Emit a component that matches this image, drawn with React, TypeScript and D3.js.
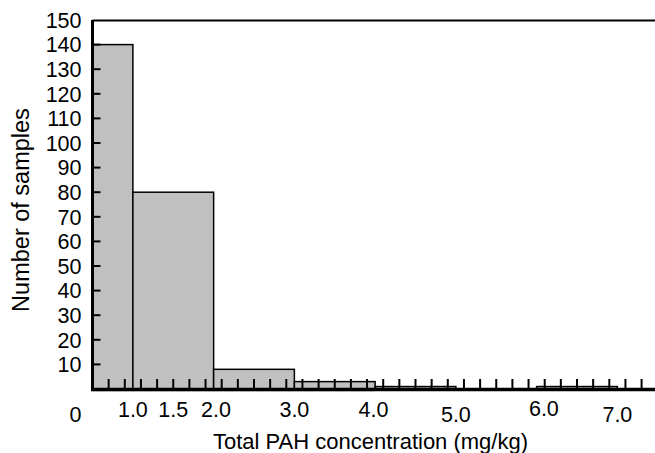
import React from "react";
import * as d3 from "d3";

const binStarts = [0.5, 1.0, 2.0, 3.0, 4.0, 5.0, 6.0];
const binEnds = [1.0, 2.0, 3.0, 4.0, 5.0, 6.0, 7.0];
const counts = [140, 80, 8, 3, 1, 0, 1];

const yTickValues = [10, 20, 30, 40, 50, 60, 70, 80, 90, 100, 110, 120, 130, 140, 150];
const xTickLabels = ["0", "1.0", "1.5", "2.0", "3.0", "4.0", "5.0", "6.0", "7.0"];
const xTickLabelAt = [0.29, 1.0, 1.5, 2.03, 3.0, 3.98, 5.0, 6.09, 7.0];

const xTitle = "Total PAH concentration (mg/kg)";
const yTitle = "Number of samples";

const W = 655;
const H = 453;
const FONT = "'Liberation Sans', Arial, sans-serif";

export default function App() {
  const left = 92.5;
  const x = d3.scaleLinear().domain([0.5, 7.5]).range([left, left + 7 * 80.75]);
  const y = d3.scaleLinear().domain([0, 150]).range([389, 20]);
  const base = y(0);
  const minorTicks = d3.range(0.7, 7.31, 0.2);
  const labelDy: Record<string, number> = { "0": 4.5, "5.0": 4.5, "7.0": 4.5, "6.0": -1 };

  return (
    <svg
      width={W}
      height={H}
      style={{ position: "absolute", left: 0, top: 0, background: "#fff" }}
      fontFamily={FONT}
    >
      {/* bars */}
      {counts.map((c, i) =>
        c > 0 ? (
          <rect
            key={i}
            x={x(binStarts[i])}
            y={y(c)}
            width={x(binEnds[i]) - x(binStarts[i])}
            height={base - y(c)}
            fill="#c0c0c0"
            stroke="#000"
            strokeWidth={1.5}
          />
        ) : null
      )}
      {/* faint dotted line under bars */}
      <line
        x1={x(0.5)}
        x2={x(4.0)}
        y1={base + 2.5}
        y2={base + 2.5}
        stroke="#c8c8c8"
        strokeWidth={1}
        strokeDasharray="1,1"
      />
      {/* top border */}
      <line x1={left} x2={W} y1={y(150) + 0.5} y2={y(150) + 0.5} stroke="#000" strokeWidth={2} />
      {/* y axis line */}
      <line x1={left} x2={left} y1={y(150)} y2={base + 1.5} stroke="#000" strokeWidth={3} />
      {/* x axis line */}
      <line x1={left - 1.5} x2={W} y1={base + 0.5} y2={base + 0.5} stroke="#000" strokeWidth={3.5} />
      {/* y ticks */}
      {yTickValues.filter((v) => v < 150).map((v) => (
        <line key={"yt" + v} x1={left} x2={left + 8} y1={y(v)} y2={y(v)} stroke="#000" strokeWidth={2} />
      ))}
      {/* y tick labels */}
      {yTickValues.map((v) => (
        <text
          key={"yl" + v}
          x={81.5}
          y={y(v) + 7.7}
          textAnchor="end"
          fontSize={21.5}
          fill="#000"
        >
          {v}
        </text>
      ))}
      {/* x minor ticks */}
      {minorTicks.map((v, i) => (
        <line key={"xt" + i} x1={x(v)} x2={x(v)} y1={base} y2={base - 10} stroke="#000" strokeWidth={2} />
      ))}
      {/* x tick labels */}
      {xTickLabels.map((t, i) => (
        <text
          key={"xl" + i}
          x={x(xTickLabelAt[i])}
          y={417 + (labelDy[t] || 0)}
          textAnchor="middle"
          fontSize={21.5}
          fill="#000"
        >
          {t}
        </text>
      ))}
      {/* axis titles */}
      <text x={370.5} y={449.3} textAnchor="middle" fontSize={22} fill="#000">
        {xTitle}
      </text>
      <text
        transform={`translate(28.5, 210) rotate(-90)`}
        textAnchor="middle"
        fontSize={23.5}
        fill="#000"
      >
        {yTitle}
      </text>
    </svg>
  );
}
